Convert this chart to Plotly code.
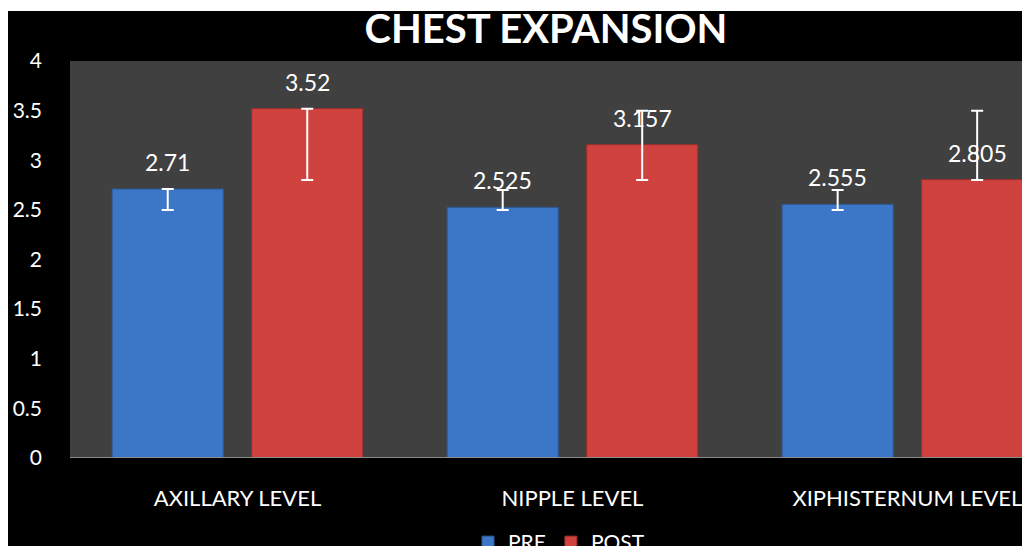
import plotly.graph_objects as go

categories = ["AXILLARY LEVEL", "NIPPLE LEVEL", "XIPHISTERNUM LEVEL"]
pre_values = [2.71, 2.525, 2.555]
post_values = [3.52, 3.157, 2.805]
pre_err_low = [2.5, 2.5, 2.5]
pre_err_high = [2.71, 2.7, 2.7]
post_err_low = [2.8, 2.8, 2.8]
post_err_high = [3.5, 3.5, 3.5]
y_ticks = [0, 0.5, 1, 1.5, 2, 2.5, 3, 3.5, 4]
y_tick_labels = ["0", "0.5", "1", "1.5", "2", "2.5", "3", "3.5", "4"]

FONT = "Lato"
BARGAP = 0.167
W, H = 1022, 538
L, T, PH = 62, 53, 397


def err(values, low, high):
    plus = [max(0, h - v) for v, h in zip(values, high)]
    minus = [max(0, v - l) for v, l in zip(values, low)]
    return dict(type="data", symmetric=False, array=plus, arrayminus=minus,
                color="white", thickness=2, width=6, visible=True)


fig = go.Figure()
fig.add_trace(go.Bar(
    name="PRE", x=categories, y=pre_values,
    marker=dict(color="#3c76c6", line=dict(color="#2c5a98", width=1)),
    error_y=err(pre_values, pre_err_low, pre_err_high),
))
fig.add_trace(go.Bar(
    name="POST", x=categories, y=post_values,
    marker=dict(color="#cf423e", line=dict(color="#9c2f2d", width=1)),
    error_y=err(post_values, post_err_low, post_err_high),
))

# value labels above bars
slot = (1 - BARGAP) / 2
for si, vals in enumerate([pre_values, post_values]):
    off = -slot / 2 if si == 0 else slot / 2
    for i, v in enumerate(vals):
        fig.add_annotation(x=i + off, y=v, text=str(v), showarrow=False,
                           yshift=27, font=dict(family=FONT, size=23, color="white"),
                           xref="x", yref="y")

fig.update_layout(
    width=W, height=H,
    margin=dict(l=L, r=0, t=T, b=H - T - PH, autoexpand=False),
    paper_bgcolor="black",
    plot_bgcolor="#404040",
    barmode="group", bargap=BARGAP, bargroupgap=0.204,
    title=dict(text="<b>CHEST EXPANSION</b>", x=538 / W, xanchor="center",
               y=1 - 21 / H, yanchor="middle", xref="container", yref="container",
               font=dict(family=FONT, size=40, color="white")),
    font=dict(family=FONT, color="white"),
    showlegend=True,
    legend=dict(orientation="h", x=(551 - L) / 960, xanchor="center",
                y=(H - 514) / H, yanchor="top", yref="container",
                font=dict(family=FONT, size=21, color="white"),
                bgcolor="rgba(0,0,0,0)", traceorder="normal"),
    xaxis=dict(range=[-0.5, 2.366], showgrid=False, zeroline=False,
               showline=False, ticks="", ticklabelstandoff=25,
               tickfont=dict(family=FONT, size=22, color="white")),
    yaxis=dict(range=[0, 4], tickvals=y_ticks, ticktext=y_tick_labels,
               showgrid=False, zeroline=False, showline=False, ticks="",
               ticklabelstandoff=27,
               tickfont=dict(family=FONT, size=21, color="white")),
    shapes=[
        dict(type="line", xref="paper", yref="y", x0=0, x1=1, y0=0, y1=0,
             line=dict(color="#8a8a8a", width=2), layer="above"),
        dict(type="rect", xref="paper", yref="paper", x0=-0.1, x1=1.01,
             y0=1 + (T - 3) / PH, y1=1 + (T + 5) / PH, fillcolor="white",
             line=dict(width=0), layer="below"),
    ],
)

fig.write_html("out.html")
